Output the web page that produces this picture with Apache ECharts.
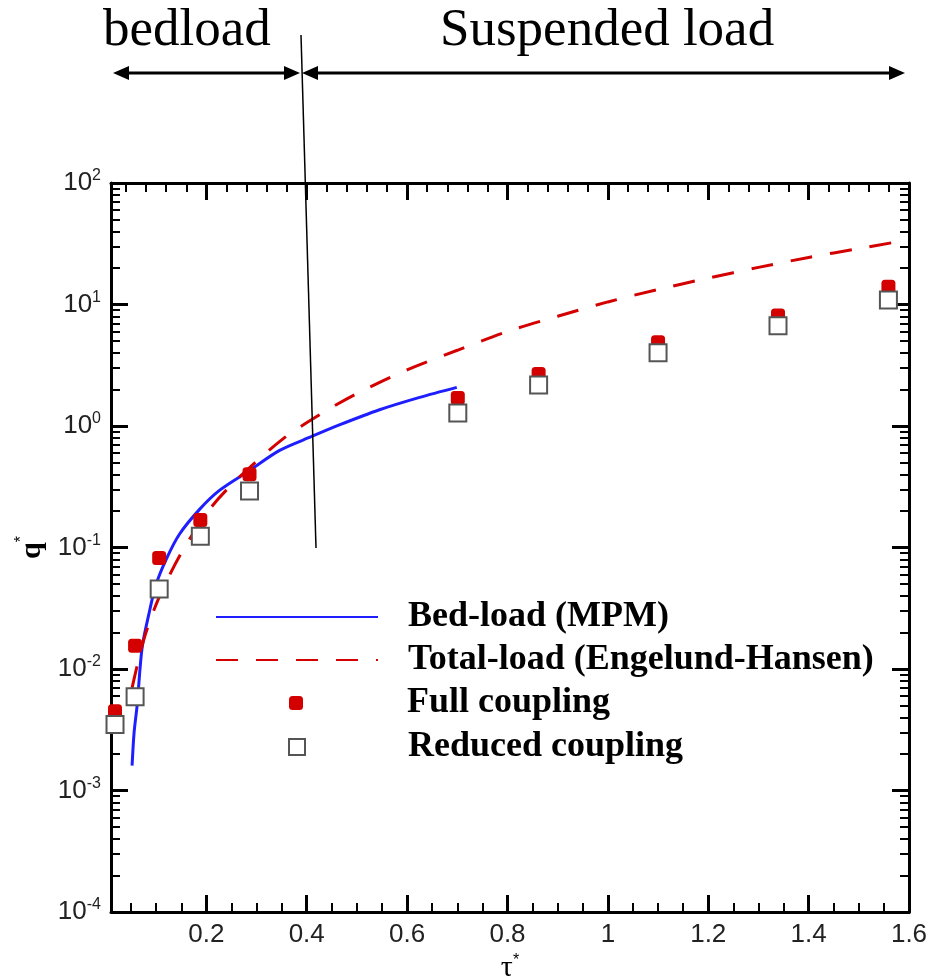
<!DOCTYPE html>
<html><head><meta charset="utf-8">
<script src="https://cdn.jsdelivr.net/npm/echarts@6/dist/echarts.min.js"></script>
<style>html,body{margin:0;padding:0;background:#fff}#c{width:928px;height:980px}</style>
</head><body><div id="c"></div>
<script>
// ---- data ----
const mpmTau = [0.052, 0.056, 0.062, 0.072, 0.086, 0.100, 0.120, 0.146, 0.186, 0.226, 0.286, 0.346, 0.410, 0.465, 0.545, 0.625, 0.699];
const mpmQ   = [0.0016, 0.0030, 0.0050, 0.0150, 0.029, 0.050, 0.080, 0.128, 0.205, 0.295, 0.43, 0.63, 0.82, 1.02, 1.36, 1.72, 2.08];
const ehTau  = [0.052, 0.076, 0.106, 0.150, 0.206, 0.260, 0.352, 0.430, 0.500, 0.600, 0.700, 0.800, 0.900, 1.000, 1.100, 1.200, 1.300, 1.400, 1.500, 1.575];
const ehQ    = [0.0070, 0.0178, 0.039, 0.090, 0.205, 0.36, 0.78, 1.27, 1.85, 2.9, 4.2, 6.0, 8.0, 10.5, 13.3, 16.5, 20.2, 24.4, 28.9, 32.7];
const simTau = [0.018, 0.058, 0.106, 0.188, 0.286, 0.701, 0.862, 1.100, 1.339, 1.559];
const fullQ  = [0.0045, 0.0155, 0.082, 0.168, 0.40, 1.70, 2.68, 4.9, 8.1, 14.0];
const redQ   = [0.0035, 0.0059, 0.0455, 0.124, 0.292, 1.28, 2.17, 4.0, 6.7, 10.9];
const xTickValues = [0.2, 0.4, 0.6, 0.8, 1.0, 1.2, 1.4, 1.6];
const yTickValues = [1e-4, 1e-3, 1e-2, 1e-1, 1, 10, 100];
const seriesNames = ['Bed-load (MPM)', 'Total-load (Engelund-Hansen)', 'Full coupling', 'Reduced coupling'];

// ---- helpers ----
const X_MIN = 0.01, X_MAX = 1.6;
const zip = (a, b) => a.map((v, i) => [v, b[i]]);
const xMinor = [];
for (let k = 1; k * 0.05 < X_MAX; k++) { const v = +(k * 0.05).toFixed(2); if (Math.abs(v / 0.2 - Math.round(v / 0.2)) > 1e-6) xMinor.push(v); }
const xMinorTop = [];
for (let k = 1; k * 0.04 < X_MAX; k++) { const v = +(k * 0.04).toFixed(2); if (Math.abs(v / 0.2 - Math.round(v / 0.2)) > 1e-6) xMinorTop.push(v); }
const yMinor = [];
for (let e = -4; e < 2; e++) for (let m = 2; m <= 9; m++) yMinor.push(+(m * Math.pow(10, e)).toPrecision(3));

const AX = '#000';
const baseX = (pos, major, vals) => ({
  type: 'value', min: X_MIN, max: X_MAX, position: pos,
  axisLine: { show: major, onZero: false, lineStyle: { color: AX, width: 3 } },
  axisTick: { show: true, inside: true, length: major ? 17 : 9, customValues: vals, lineStyle: { color: AX, width: major ? 3 : 2 } },
  axisLabel: { show: false }, splitLine: { show: false }
});
const baseY = (pos, major, vals) => ({
  type: 'log', logBase: 10, min: 1e-4, max: 100, position: pos,
  axisLine: { show: major, onZero: false, lineStyle: { color: AX, width: 3 } },
  axisTick: { show: true, inside: true, length: major ? 17 : 9, customValues: vals, lineStyle: { color: AX, width: major ? 3 : 2 } },
  axisLabel: { show: false }, splitLine: { show: false }, minorTick: { show: false }
});

const xMain = baseX('bottom', true, xTickValues);
xMain.axisLabel = {
  show: true, customValues: xTickValues, margin: 10, color: '#222', fontSize: 26, fontFamily: 'Liberation Sans',
  formatter: v => String(+(+v).toFixed(1))
};
xMain.name = '{t|τ}{s|*}';
xMain.nameLocation = 'middle';
xMain.nameGap = 36;
xMain.nameTextStyle = { rich: {
  t: { fontSize: 30, fontFamily: 'Liberation Serif', color: '#000', lineHeight: 30 },
  s: { fontSize: 16, fontFamily: 'Liberation Sans', color: '#000', verticalAlign: 'top', lineHeight: 16 }
} };

const yMain = baseY('left', true, yTickValues);
yMain.axisLabel = {
  show: true, customValues: yTickValues, margin: 10, color: '#222',
  formatter: v => '{b|10}{s|' + Math.round(Math.log10(v)) + '}',
  rich: {
    b: { fontSize: 26, fontFamily: 'Liberation Sans', color: '#222', lineHeight: 30 },
    s: { fontSize: 16, fontFamily: 'Liberation Sans', color: '#222', verticalAlign: 'top', lineHeight: 16 }
  }
};
yMain.name = '{q|q}{s|*}';
yMain.nameLocation = 'middle';
yMain.nameRotate = 90;
yMain.nameGap = 58;
yMain.nameTextStyle = { rich: {
  q: { fontSize: 30, fontFamily: 'Liberation Serif', fontWeight: 'bold', color: '#000', lineHeight: 36 },
  s: { fontSize: 16, fontFamily: 'Liberation Sans', color: '#000', verticalAlign: 'top', lineHeight: 16 }
} };

const legendText = (pad) => ({ fontFamily: 'Liberation Serif', fontWeight: 'bold', fontSize: 36, color: '#000', lineHeight: 36, padding: [0, 0, 0, pad] });
const legendBase = { orient: 'vertical', padding: 0, selectedMode: false };
const lineLegendItemStyle = { color: 'transparent', borderColor: 'transparent', borderWidth: 0, opacity: 0 };

const option = {
  animation: false,
  backgroundColor: '#fff',
  grid: { left: 111, right: 19, top: 183, bottom: 68, containLabel: false, outerBoundsMode: 'none' },
  xAxis: [xMain, baseX('bottom', false, xMinor), baseX('top', true, xTickValues), baseX('top', false, xMinorTop)],
  yAxis: [yMain, baseY('left', false, yMinor), baseY('right', true, yTickValues), baseY('right', false, yMinor)],
  legend: [
    Object.assign({}, legendBase, { data: [seriesNames[0]], left: 215, top: 617 - 18, itemWidth: 162, itemHeight: 14, itemStyle: lineLegendItemStyle, textStyle: legendText(25) }),
    Object.assign({}, legendBase, { data: [seriesNames[1]], left: 215, top: 660 - 18, itemWidth: 162, itemHeight: 14, itemStyle: lineLegendItemStyle, textStyle: legendText(25) }),
    Object.assign({}, legendBase, { data: [seriesNames[2]], left: 289, top: 703 - 18, itemWidth: 14, itemHeight: 14, textStyle: legendText(99) }),
    Object.assign({}, legendBase, { data: [seriesNames[3]], left: 288, top: 747 - 18, itemWidth: 16, itemHeight: 16, textStyle: legendText(98) })
  ],
  series: [
    { name: seriesNames[0], type: 'line', data: zip(mpmTau, mpmQ), smooth: 0.3, symbol: 'none',
      lineStyle: { color: '#1e1eff', width: 3 }, itemStyle: { color: '#1e1eff' }, z: 3 },
    { name: seriesNames[1], type: 'line', data: zip(ehTau, ehQ), smooth: 0.3, symbol: 'none',
      lineStyle: { color: '#d40000', width: 3, type: [22, 18] }, itemStyle: { color: '#d40000' }, z: 3 },
    { name: seriesNames[2], type: 'scatter', data: zip(simTau, fullQ), symbol: 'roundRect', symbolSize: 14,
      itemStyle: { color: '#d40000', opacity: 1 }, z: 4 },
    { name: seriesNames[3], type: 'scatter', data: zip(simTau, redQ), symbol: 'rect', symbolSize: 17,
      itemStyle: { color: '#fff', borderColor: '#555', borderWidth: 2, opacity: 1 }, z: 5 }
  ],
  graphic: [
    { type: 'text', z: 10, style: { x: 103, y: 31, text: 'bedload', fontSize: 53, fontFamily: 'Liberation Serif', fill: '#000', align: 'left', verticalAlign: 'middle' } },
    { type: 'text', z: 10, style: { x: 440, y: 31, text: 'Suspended load', fontSize: 53, fontFamily: 'Liberation Serif', fill: '#000', align: 'left', verticalAlign: 'middle' } },
    { type: 'line', z: 10, shape: { x1: 125, y1: 73, x2: 290, y2: 73 }, style: { stroke: '#000', lineWidth: 3 } },
    { type: 'line', z: 10, shape: { x1: 312, y1: 73, x2: 893, y2: 73 }, style: { stroke: '#000', lineWidth: 3 } },
    { type: 'polygon', z: 10, shape: { points: [[113, 73], [129, 66], [129, 80]] }, style: { fill: '#000' } },
    { type: 'polygon', z: 10, shape: { points: [[300, 73], [284, 66], [284, 80]] }, style: { fill: '#000' } },
    { type: 'polygon', z: 10, shape: { points: [[302, 73], [318, 66], [318, 80]] }, style: { fill: '#000' } },
    { type: 'polygon', z: 10, shape: { points: [[905, 73], [889, 66], [889, 80]] }, style: { fill: '#000' } },
    { type: 'line', z: 10, shape: { x1: 301, y1: 35, x2: 316, y2: 548 }, style: { stroke: '#000', lineWidth: 1.5 } }
  ]
};
const chart = echarts.init(document.getElementById('c'), null, { renderer: 'canvas' });
chart.setOption(option);
</script></body></html>
